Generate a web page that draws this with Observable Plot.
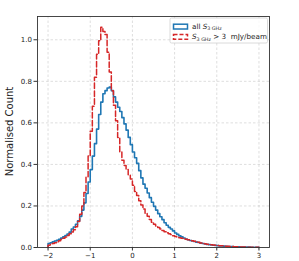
<!DOCTYPE html>
<html><head><meta charset="utf-8">
<script src="https://cdn.jsdelivr.net/npm/d3@7"></script>
<script src="https://cdn.jsdelivr.net/npm/@observablehq/plot@0.6"></script>
<style>body{margin:0;background:#fff} svg{display:block}</style>
</head><body><div id="chart"></div>
<script>
const binStart = -2, binWidth = 0.05;
const allS = [
0.019,0.023,0.027,0.031,0.035,0.040,0.045,0.051,0.058,0.065,
0.074,0.089,0.099,0.112,0.128,0.150,0.180,0.215,0.260,0.315,
0.375,0.440,0.500,0.570,0.640,0.700,0.740,0.755,0.768,0.772,
0.755,0.725,0.700,0.675,0.655,0.625,0.595,0.565,0.530,0.495,
0.460,0.432,0.405,0.370,0.335,0.305,0.285,0.262,0.240,0.218,
0.198,0.180,0.163,0.148,0.134,0.119,0.107,0.097,0.089,0.080,
0.070,0.063,0.056,0.051,0.046,0.041,0.037,0.034,0.031,0.029,
0.026,0.024,0.021,0.019,0.017,0.015,0.014,0.012,0.011,0.010,
0.009,0.008,0.007,0.0065,0.006,0.005,0.0045,0.004,0.0035,0.003,
0.0028,0.0025,0.0022,0.002,0.0018,0.0016,0.0014,0.0012,0.001,0.001];
const brightS = [
0.011,0.015,0.019,0.023,0.028,0.033,0.039,0.045,0.051,0.058,
0.066,0.075,0.085,0.100,0.125,0.160,0.200,0.265,0.340,0.440,
0.560,0.680,0.820,0.930,0.995,1.060,1.040,1.025,0.940,0.845,
0.755,0.685,0.610,0.530,0.460,0.420,0.395,0.375,0.350,0.330,
0.300,0.270,0.250,0.225,0.205,0.185,0.165,0.150,0.135,0.122,
0.112,0.103,0.096,0.089,0.082,0.076,0.071,0.066,0.062,0.057,
0.053,0.050,0.047,0.044,0.042,0.040,0.037,0.035,0.033,0.030,
0.027,0.025,0.022,0.020,0.018,0.016,0.015,0.013,0.012,0.011,
0.010,0.009,0.008,0.007,0.0065,0.006,0.005,0.0045,0.004,0.0035,
0.003,0.0027,0.0024,0.002,0.0018,0.0015,0.0013,0.0011,0.001,0.001];
const xTicks = [-2, -1, 0, 1, 2, 3];
const yTicks = [0, 0.2, 0.4, 0.6, 0.8, 1.0];
const colors = {all: "#1f77b4", bright: "#d62728"};

function outline(vals, name) {
  const pts = [{x: binStart, y: 0, s: name}];
  vals.forEach((v, i) => pts.push({x: binStart + i * binWidth, y: v, s: name}));
  const end = binStart + vals.length * binWidth;
  pts.push({x: end, y: vals[vals.length - 1], s: name});
  pts.push({x: end, y: 0, s: name});
  return pts;
}

const W = 299, H = 261;
const plot = Plot.plot({
  width: W, height: H,
  marginLeft: 37, marginRight: 30, marginTop: 16, marginBottom: 14,
  style: {fontFamily: "DejaVu Sans", fontSize: "7px", background: "#fff", overflow: "visible", color: "#222"},
  x: {domain: [-2.25, 3.25]},
  y: {domain: [0, 1.112]},
  marks: [
    Plot.gridX(xTicks, {stroke: "#b0b0b0", strokeOpacity: 0.6, strokeDasharray: "2.5,2", strokeWidth: 0.7}),
    Plot.gridY(yTicks, {stroke: "#b0b0b0", strokeOpacity: 0.6, strokeDasharray: "2.5,2", strokeWidth: 0.7}),
    Plot.line(outline(allS, "all"), {x: "x", y: "y", curve: "step-after", stroke: colors.all, strokeWidth: 1.6}),
    Plot.line(outline(brightS, "bright"), {x: "x", y: "y", curve: "step-after", stroke: colors.bright, strokeWidth: 1.5, strokeDasharray: "5.5,2.4"}),
    Plot.frame({stroke: "#333", strokeWidth: 0.9}),
    Plot.axisX(xTicks, {tickSize: 3.5, tickPadding: 2, label: null, tickFormat: d3.format("d"), stroke: "#333"}),
    Plot.axisY(yTicks, {tickSize: 3.5, tickPadding: 2, label: null, tickFormat: d3.format(".1f"), stroke: "#333"})
  ]
});
document.getElementById("chart").appendChild(plot);

const svg = d3.select(plot);
// y label
svg.append("text")
  .attr("transform", "translate(12.5,131.5) rotate(-90)")
  .attr("text-anchor", "middle")
  .attr("font-family", "DejaVu Sans").attr("font-size", 10).attr("fill", "#222")
  .text("Normalised Count");

// legend
const lg = svg.append("g").attr("font-family", "DejaVu Sans").attr("font-size", 7.2)
  .attr("fill", "#222").attr("text-anchor", "start");
lg.append("rect").attr("x", 170).attr("y", 18).attr("width", 97.5).attr("height", 25).attr("rx", 1.5)
  .attr("fill", "#fff").attr("fill-opacity", 0.8).attr("stroke", "#d0d0d0").attr("stroke-width", 0.8);
lg.append("rect").attr("x", 173.5).attr("y", 24.2).attr("width", 14).attr("height", 4.8)
  .attr("fill", "none").attr("stroke", colors.all).attr("stroke-width", 1.5);
lg.append("rect").attr("x", 173.5).attr("y", 34.5).attr("width", 14).attr("height", 4.8)
  .attr("fill", "none").attr("stroke", colors.bright).attr("stroke-width", 1.5).attr("stroke-dasharray", "4,2");
const t1 = lg.append("text").attr("x", 192).attr("y", 28.8).attr("text-anchor", "start");
t1.append("tspan").text("all ");
t1.append("tspan").attr("font-style", "italic").text("S");
t1.append("tspan").attr("font-size", 4.8).attr("dy", 1.5).text("3 GHz");
const t2 = lg.append("text").attr("x", 192).attr("y", 39.2).attr("text-anchor", "start");
t2.append("tspan").attr("font-style", "italic").text("S");
t2.append("tspan").attr("font-size", 4.8).attr("dy", 1.5).text("3 GHz");
t2.append("tspan").attr("dy", -1.5).text(" > 3  mJy/beam");
</script>
</body></html>
